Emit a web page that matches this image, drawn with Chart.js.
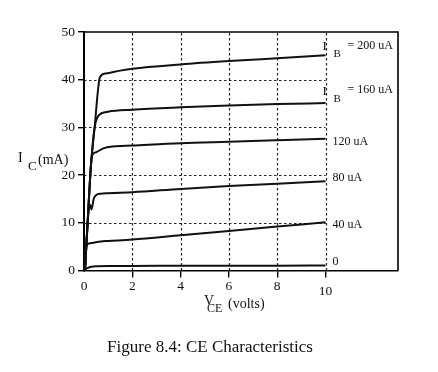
<!DOCTYPE html>
<html>
<head>
<meta charset="utf-8">
<style>
  html, body { margin: 0; padding: 0; background: #fff; }
  canvas { display: block; }
</style>
</head>
<body>
<canvas id="ce-chart" width="438" height="372"></canvas>
<script src="https://cdn.jsdelivr.net/npm/chart.js"></script>
<script>
  // CE characteristics, I_C (mA) against V_CE (volts), one curve per base current
  const ticksX = [0, 2, 4, 6, 8, 10];
  const ticksY = [0, 10, 20, 30, 40, 50];

  const vce200 = [0.04, 0.15, 0.26, 0.44, 0.66, 0.9, 1.5, 2, 4, 6, 8, 10];
  const ic200 = [0, 10, 20, 30, 40.5, 41.3, 41.9, 42.3, 43.2, 43.9, 44.5, 45.1];
  const vce160 = [0.04, 0.15, 0.26, 0.4, 0.48, 0.62, 1, 2, 4, 6, 8, 10];
  const ic160 = [0, 10, 20, 28.5, 31, 32.6, 33.3, 33.7, 34.2, 34.6, 34.9, 35.1];
  const vce120 = [0.04, 0.15, 0.26, 0.32, 0.5, 0.8, 1.2, 2, 4, 6, 8, 10];
  const ic120 = [0, 10, 20, 23.9, 24.8, 25.6, 26.0, 26.2, 26.7, 27.0, 27.3, 27.6];
  const vce80 = [0.04, 0.15, 0.25, 0.31, 0.4, 0.5, 0.7, 1, 2, 4, 6, 8, 10];
  const ic80 = [0, 10, 13.8, 12.8, 15, 15.8, 16.1, 16.2, 16.4, 17.1, 17.7, 18.2, 18.7];
  const vce40 = [0.04, 0.06, 0.25, 0.7, 1, 2, 4, 6, 8, 10];
  const ic40 = [0, 4.6, 5.7, 6.1, 6.2, 6.5, 7.4, 8.3, 9.2, 10.1];
  const vce0 = [0.02, 0.11, 0.46, 1, 2, 4, 6, 8, 10];
  const ic0 = [0, 0.46, 0.9, 0.95, 0.95, 1.0, 1.0, 1.0, 1.05];

  const curveLabels = ["= 200 uA", "= 160 uA", "120 uA", "80 uA", "40 uA", "0"];
  const labelAt = [47.2, 37.8, 27.0, 19.5, 9.5, 1.8];

  const serif = '"Liberation Serif", "DejaVu Serif", serif';

  function pts(xs, ys) {
    return xs.map((v, i) => ({ x: v, y: ys[i] }));
  }

  function curve(xs, ys) {
    return {
      data: pts(xs, ys),
      borderColor: "#111",
      borderWidth: 2,
      pointRadius: 0,
      cubicInterpolationMode: "monotone",
      fill: false,
    };
  }

  const decor = {
    id: "decor",
    beforeDatasetsDraw(chart) {
      const { ctx, chartArea: a, scales: { x, y } } = chart;
      ctx.save();
      ctx.strokeStyle = "#222";
      ctx.lineWidth = 1.2;
      ctx.setLineDash([2.5, 2.5]);
      ticksY.filter((v) => v > 0 && v < 50).forEach((v) => {
        const py = Math.round(y.getPixelForValue(v)) + 0.5;
        ctx.beginPath();
        ctx.moveTo(x.getPixelForValue(0), py);
        ctx.lineTo(x.getPixelForValue(10), py);
        ctx.stroke();
      });
      ticksX.filter((v) => v > 0).forEach((v) => {
        const px = Math.round(x.getPixelForValue(v)) + 0.5;
        ctx.beginPath();
        ctx.moveTo(px, y.getPixelForValue(0));
        ctx.lineTo(px, y.getPixelForValue(50));
        ctx.stroke();
      });
      ctx.setLineDash([]);
      // top and right edges of the frame
      ctx.strokeStyle = "#000";
      ctx.lineWidth = 1.6;
      ctx.beginPath();
      ctx.moveTo(a.left, a.top);
      ctx.lineTo(a.right, a.top);
      ctx.lineTo(a.right, a.bottom);
      ctx.stroke();
      ctx.restore();
    },
    afterDraw(chart) {
      const { ctx, scales: { x, y } } = chart;
      ctx.save();
      ctx.fillStyle = "#111";
      ctx.textBaseline = "middle";
      ctx.textAlign = "left";

      // curve labels at the right
      const x0 = x.getPixelForValue(10);
      curveLabels.forEach((t, i) => {
        const py = y.getPixelForValue(labelAt[i]);
        if (i < 2) {
          ctx.font = "13px " + serif;
          ctx.fillText("I", x0 - 3, py + 1);
          ctx.font = "11px " + serif;
          ctx.fillText("B", x0 + 8, py + 9);
          ctx.font = "12px " + serif;
          ctx.fillText(t, x0 + 22, py);
        } else {
          ctx.font = "12px " + serif;
          ctx.fillText(t, x0 + 7, py);
        }
      });

      // y title
      ctx.font = "14px " + serif;
      ctx.fillText("I", 18, 158);
      ctx.font = "13px " + serif;
      ctx.fillText("C", 28, 167);
      ctx.font = "14px " + serif;
      ctx.fillText("(mA)", 38, 160);

      // x title
      ctx.font = "14px " + serif;
      ctx.fillText("V", 204, 301);
      ctx.font = "12px " + serif;
      ctx.fillText("CE", 207, 309);
      ctx.font = "14px " + serif;
      ctx.fillText("(volts)", 228, 304);

      // caption
      ctx.font = "17px " + serif;
      ctx.textAlign = "center";
      ctx.fillText("Figure 8.4: CE Characteristics", 210, 348);
      ctx.restore();
    },
  };

  const ceCtx = document.getElementById("ce-chart").getContext("2d");
  const ceChart = new Chart(ceCtx, {
    type: "line",
    data: {
      datasets: [
        curve(vce200, ic200),
        curve(vce160, ic160),
        curve(vce120, ic120),
        curve(vce80, ic80),
        curve(vce40, ic40),
        curve(vce0, ic0),
      ],
    },
    options: {
      responsive: false,
      animation: false,
      devicePixelRatio: 1,
      layout: { padding: { top: 32, right: 40, bottom: 0, left: 0 } },
      plugins: { legend: { display: false }, tooltip: { enabled: false } },
      scales: {
        x: {
          type: "linear",
          min: 0,
          max: 13,
          afterFit: (s) => { s.height = 101.5; },
          border: { display: true, color: "#000", width: 1.6 },
          grid: {
            drawOnChartArea: false,
            drawTicks: true,
            tickLength: 7,
            lineWidth: 1.4,
            color: (c) => (c.tick && c.tick.value > 0 && c.tick.value <= 10 ? "#000" : "rgba(0,0,0,0)"),
          },
          ticks: {
            stepSize: 2,
            color: "#111",
            padding: 6,
            maxRotation: 0,
            autoSkip: false,
            font: { family: serif, size: 13.5, lineHeight: 0.4 },
            callback: (v) => (v === 10 ? ["", "10"] : ticksX.includes(v) ? String(v) : ""),
          },
        },
        y: {
          min: 0,
          max: 50,
          afterFit: (s) => { s.width = 84; },
          border: { display: true, color: "#000", width: 2 },
          grid: {
            drawOnChartArea: false,
            drawTicks: true,
            tickLength: 6,
            lineWidth: 1.4,
            color: "#000",
          },
          ticks: {
            stepSize: 10,
            color: "#111",
            padding: 3,
            font: { family: serif, size: 13.5 },
            callback: (v) => (ticksY.includes(v) ? String(v) : ""),
          },
        },
      },
    },
    plugins: [decor],
  });
</script>
</body>
</html>
